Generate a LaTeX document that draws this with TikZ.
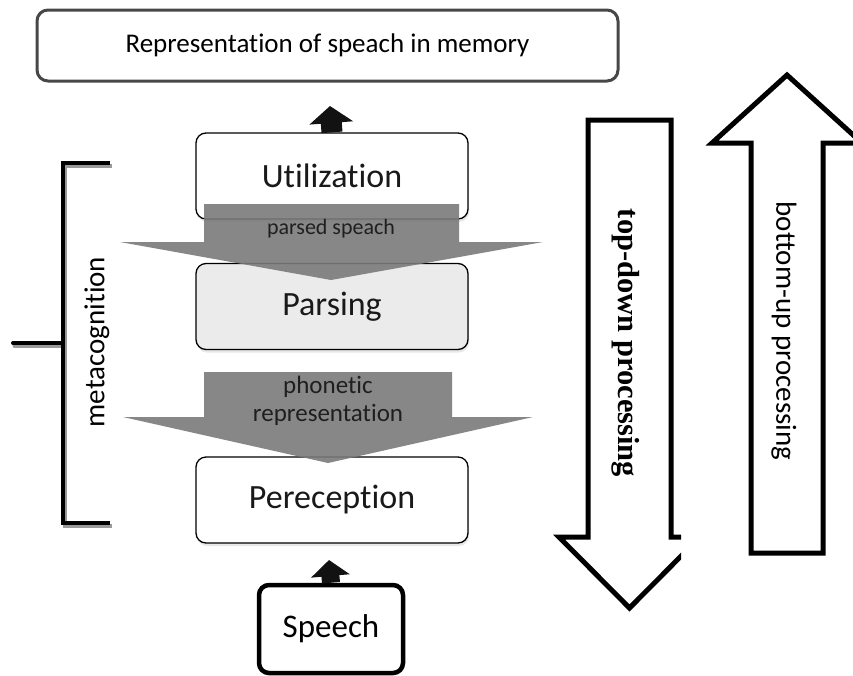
\documentclass[tikz,border=0pt]{standalone}
\usepackage{fontspec}
\setmainfont{Carlito}[Ligatures=NoCommon]
\newfontfamily\serifbold{Liberation Serif}
\usetikzlibrary{arrows.meta,calc,shadows}
\begin{document}
\begin{tikzpicture}[x=1pt,y=-1pt,
  stagebox/.style={draw=black, line width=1.3pt, rounded corners=10pt,
    minimum width=272pt, minimum height=86pt, inner sep=0pt,
    font=\fontsize{34}{36}\selectfont, text=black!90,
    drop shadow={opacity=0.18, shadow xshift=1pt, shadow yshift=-3pt}},
  topbox/.style={draw=black!72, line width=3pt, rounded corners=11pt,
    minimum width=581pt, minimum height=71pt, inner sep=0pt, fill=white,
    font=\fontsize{27}{30}\selectfont},
  speechbox/.style={draw=black, line width=4.5pt, rounded corners=10pt,
    minimum width=144pt, minimum height=88pt, inner sep=0pt, fill=white,
    font=\fontsize{33}{36}\selectfont},
  greyarrow/.style={fill=black!52, fill opacity=0.9},
  arrowlabel/.style={align=center, text=black!88, inner sep=0pt},
  bigarrow/.style={draw=black, line width=5pt, fill=white, line join=miter, miter limit=20},
  bracketline/.style={line width=4pt},
  smallup/.style={draw=black!93},
]
\clip (0,0) rectangle (853,675);
\fill[white] (0,0) rectangle (853,675);

% top box
\node[topbox] (mem) at (327.5,45.5) {Representation of speach in memory};

% stage boxes
\node[stagebox, fill=white] (util) at (332,176) {Utilization};
\node[stagebox, fill=black!8] (pars) at (332,306.5) {Parsing};
\node[stagebox, fill=white] (perc) at (332,500) {Pereception};
\node[speechbox] (speech) at (331,629) {Speech};

% small black up arrows
\coordinate (tipU) at (330,106);
\draw[smallup, line width=21pt, -{Triangle[width=43pt,length=17pt]}] (util.north) -- (tipU);
\coordinate (tipP) at (329,560);
\draw[smallup, line width=18pt, -{Triangle[width=38pt,length=16pt]}] (speech.north) -- (tipP);

% grey block arrows
\coordinate (g1tip) at (331,280);
\fill[greyarrow] (204,204) -- (459,204) -- (459,242) -- (543,242) -- (g1tip)
   -- (120,242) -- (204,242) -- cycle;
\node[arrowlabel, font=\fontsize{22}{24}\selectfont] (lab1) at (331,229) {parsed speach};

\coordinate (g2tip) at (328,463);
\fill[greyarrow] (204,372) -- (452,372) -- (452,417) -- (533,417) -- (g2tip)
   -- (123,417) -- (204,417) -- cycle;
\node[arrowlabel, font=\fontsize{25}{28}\selectfont] (lab2) at (328,401) {phonetic\\representation};

% metacognition bracket
\begin{scope}[shift={(1.5,3)}]
  \draw[bracketline, black!40] (110,163) -- (63,163) -- (63,523) -- (110,523);
  \draw[bracketline, black!40, line cap=round] (13,343) -- (63,343);
\end{scope}
\draw[bracketline] (110,163) -- (63,163) -- (63,523) -- (110,523);
\draw[bracketline, line cap=round] (13,343) -- (63,343);
\node[rotate=90, inner sep=0pt, font=\fontsize{29}{30}\selectfont] (meta) at (97,342) {metacognition};

% top-down arrow (right wing cut)
\begin{scope}
  \clip (0,0) rectangle (681,675);
  \draw[bigarrow] (588,120) -- (671,120) -- (671,537) -- (700,537) -- (629.5,608)
     -- (559,537) -- (588,537) -- cycle;
\end{scope}
\node[rotate=-90, inner sep=0pt, font=\serifbold\bfseries\fontsize{30.5}{30}\selectfont] (td) at (626,343) {top-down processing};

% bottom-up arrow
\draw[bigarrow] (751,553) -- (823,553) -- (823,143) -- (862,143) -- (787,75)
   -- (712,143) -- (751,143) -- cycle;
\node[rotate=-90, inner sep=0pt, font=\fontsize{29}{30}\selectfont] (bu) at (784,331) {bottom-up processing};
\end{tikzpicture}
\end{document}
